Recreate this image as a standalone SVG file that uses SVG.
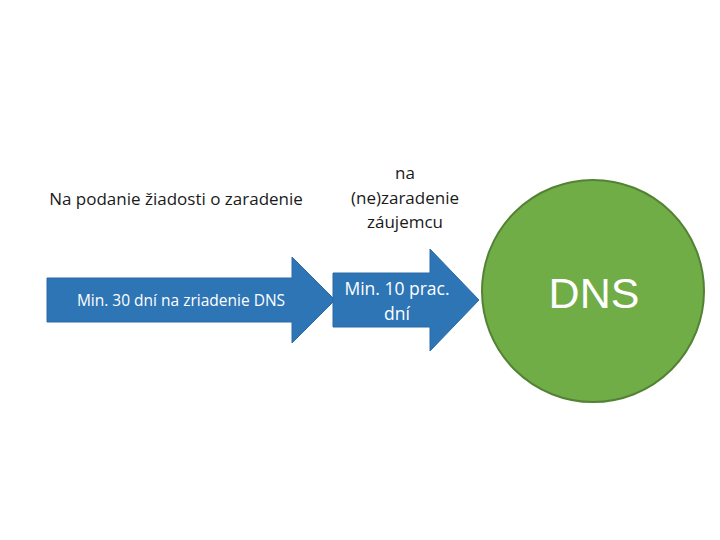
<svg xmlns="http://www.w3.org/2000/svg" width="720" height="540" viewBox="0 0 720 540">
<style>
.lbl{font-family:"Open Sans","Liberation Sans",sans-serif;fill:#1a1a1a;text-anchor:middle}
.wht{font-family:"Open Sans","Liberation Sans",sans-serif;fill:#ffffff;text-anchor:middle}
.big{font-family:"Liberation Sans","DejaVu Sans",sans-serif;fill:#ffffff;text-anchor:middle}
.arrow{fill:#2E75B6;stroke:#2a6aa6;stroke-width:1}
</style>
<rect width="720" height="540" fill="#ffffff"/>
<g id="connectors">
<g id="arrow1">
<polygon class="arrow" points="47,278 292,278 292,257 335,300 292,343 292,322 47,322"/>
<text class="wht" x="181" y="306" font-size="15.5">Min. 30 dní na zriadenie DNS</text>
</g>
<g id="arrow2">
<polygon class="arrow" points="333,273 430,273 430,249 479,300 430,351 430,327 333,327"/>
<text class="wht" x="397" y="295" font-size="17.5">Min. 10 prac.</text>
<text class="wht" x="397" y="320" font-size="17.5">dní</text>
</g>
</g>
<g id="label1">
<text class="lbl" x="176" y="205" font-size="17">Na podanie žiadosti o zaradenie</text>
</g>
<g id="label2">
<text class="lbl" x="405" y="179" font-size="17">na</text>
<text class="lbl" x="405" y="204" font-size="17">(ne)zaradenie</text>
<text class="lbl" x="405" y="228" font-size="17">záujemcu</text>
</g>
<g id="dns">
<circle cx="593" cy="291" r="111" fill="#70AD47" stroke="#548235" stroke-width="2"/>
<text class="big" x="594" y="308" font-size="43">DNS</text>
</g>
</svg>
